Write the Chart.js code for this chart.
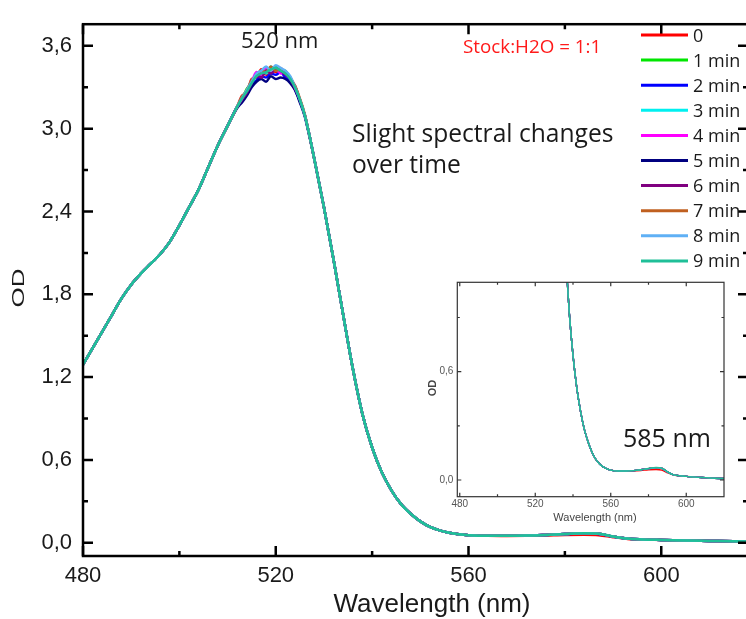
<!DOCTYPE html>
<html>
<head>
<meta charset="utf-8">
<script src="https://cdn.jsdelivr.net/npm/chart.js@4.4.0/dist/chart.umd.min.js"></script>
<style>
  body { margin: 0; background: #fff; }
  #wrap { position: relative; width: 746px; height: 619px; overflow: hidden; }
  #main { position: absolute; left: 0; top: 0; }
  #inset { position: absolute; left: 400px; top: 270px; }
</style>
</head>
<body>
<div id="wrap">
  <canvas id="main" width="749" height="619"></canvas>
  <canvas id="inset" width="330" height="260"></canvas>
</div>
<script>
// wavelength grid (nm)
const wavelengths = [480, 482, 484, 486, 488, 490, 492, 494, 496, 498, 500, 502, 504, 506, 508, 510, 512,
  513, 514, 515, 516, 517, 518, 519, 520, 521, 522, 523, 524,
  525, 526, 527, 528, 530, 532, 534, 536, 538, 540, 542, 544, 546, 548, 550, 552, 554, 556, 558, 560,
  564, 568, 572, 576, 580, 584, 587, 590, 593, 596, 600, 605, 610, 615, 620];

// OD for every time point
const od0 = [1.29, 1.41, 1.53, 1.65, 1.77, 1.87, 1.95, 2.02, 2.09, 2.18, 2.30, 2.43, 2.56, 2.72, 2.88, 3.02, 3.16,
  3.24, 3.26, 3.36, 3.37, 3.43, 3.39, 3.44, 3.41, 3.44, 3.39, 3.37, 3.29,
  3.21, 3.10, 2.95, 2.78, 2.43, 2.05, 1.65, 1.26, 0.93, 0.69, 0.51, 0.38, 0.28, 0.21, 0.155, 0.115, 0.09, 0.073, 0.062, 0.055,
  0.05, 0.049, 0.05, 0.053, 0.057, 0.058, 0.055, 0.04, 0.028, 0.023, 0.02, 0.016, 0.013, 0.01, 0.008];
const od1 = [1.29, 1.41, 1.53, 1.65, 1.77, 1.87, 1.95, 2.02, 2.09, 2.18, 2.30, 2.43, 2.56, 2.72, 2.88, 3.02, 3.16,
  3.21, 3.29, 3.32, 3.40, 3.38, 3.43, 3.41, 3.45, 3.41, 3.42, 3.35, 3.31,
  3.21, 3.10, 2.95, 2.78, 2.43, 2.05, 1.65, 1.26, 0.93, 0.69, 0.51, 0.38, 0.28, 0.21, 0.155, 0.115, 0.09, 0.073, 0.062, 0.055,
  0.05, 0.05, 0.052, 0.057, 0.063, 0.068, 0.065, 0.045, 0.03, 0.024, 0.02, 0.016, 0.013, 0.01, 0.008];
const od2 = [1.29, 1.41, 1.53, 1.65, 1.77, 1.87, 1.95, 2.02, 2.09, 2.18, 2.30, 2.43, 2.56, 2.72, 2.88, 3.02, 3.16,
  3.20, 3.25, 3.31, 3.35, 3.38, 3.37, 3.40, 3.39, 3.41, 3.37, 3.35, 3.28,
  3.20, 3.10, 2.95, 2.78, 2.43, 2.05, 1.65, 1.26, 0.93, 0.69, 0.51, 0.38, 0.28, 0.21, 0.155, 0.115, 0.09, 0.073, 0.062, 0.055,
  0.05, 0.05, 0.052, 0.057, 0.063, 0.067, 0.064, 0.045, 0.03, 0.024, 0.02, 0.016, 0.013, 0.01, 0.008];
const od3 = [1.29, 1.41, 1.53, 1.65, 1.77, 1.87, 1.95, 2.02, 2.09, 2.18, 2.30, 2.43, 2.56, 2.72, 2.88, 3.02, 3.16,
  3.23, 3.28, 3.35, 3.39, 3.42, 3.40, 3.45, 3.42, 3.43, 3.41, 3.37, 3.30,
  3.21, 3.10, 2.95, 2.78, 2.43, 2.05, 1.65, 1.26, 0.93, 0.69, 0.51, 0.38, 0.28, 0.21, 0.155, 0.115, 0.09, 0.073, 0.062, 0.055,
  0.05, 0.05, 0.052, 0.057, 0.063, 0.068, 0.065, 0.045, 0.03, 0.024, 0.02, 0.016, 0.013, 0.01, 0.008];
const od4 = [1.29, 1.41, 1.53, 1.65, 1.77, 1.87, 1.95, 2.02, 2.09, 2.18, 2.30, 2.43, 2.56, 2.72, 2.88, 3.02, 3.16,
  3.22, 3.27, 3.34, 3.41, 3.39, 3.44, 3.42, 3.44, 3.40, 3.41, 3.36, 3.31,
  3.21, 3.10, 2.95, 2.78, 2.43, 2.05, 1.65, 1.26, 0.93, 0.69, 0.51, 0.38, 0.28, 0.21, 0.155, 0.115, 0.09, 0.073, 0.062, 0.055,
  0.05, 0.05, 0.052, 0.057, 0.063, 0.068, 0.065, 0.045, 0.03, 0.024, 0.02, 0.016, 0.013, 0.01, 0.008];
const od5 = [1.29, 1.41, 1.53, 1.65, 1.77, 1.87, 1.95, 2.02, 2.09, 2.18, 2.30, 2.43, 2.56, 2.72, 2.88, 3.02, 3.15,
  3.19, 3.24, 3.30, 3.34, 3.36, 3.34, 3.38, 3.36, 3.37, 3.36, 3.33, 3.28,
  3.19, 3.09, 2.94, 2.78, 2.43, 2.05, 1.65, 1.26, 0.93, 0.69, 0.51, 0.38, 0.28, 0.21, 0.155, 0.115, 0.09, 0.073, 0.062, 0.055,
  0.05, 0.05, 0.052, 0.057, 0.063, 0.068, 0.065, 0.045, 0.03, 0.024, 0.02, 0.016, 0.013, 0.01, 0.008];
const od6 = [1.29, 1.41, 1.53, 1.65, 1.77, 1.87, 1.95, 2.02, 2.09, 2.18, 2.30, 2.43, 2.56, 2.72, 2.88, 3.02, 3.16,
  3.21, 3.26, 3.33, 3.39, 3.37, 3.42, 3.40, 3.43, 3.42, 3.39, 3.36, 3.29,
  3.21, 3.10, 2.95, 2.78, 2.43, 2.05, 1.65, 1.26, 0.93, 0.69, 0.51, 0.38, 0.28, 0.21, 0.155, 0.115, 0.09, 0.073, 0.062, 0.055,
  0.05, 0.05, 0.052, 0.057, 0.063, 0.068, 0.065, 0.045, 0.03, 0.024, 0.02, 0.016, 0.013, 0.01, 0.008];
const od7 = [1.29, 1.41, 1.53, 1.65, 1.77, 1.87, 1.95, 2.02, 2.09, 2.18, 2.30, 2.43, 2.56, 2.72, 2.88, 3.02, 3.16,
  3.23, 3.28, 3.35, 3.38, 3.42, 3.41, 3.45, 3.42, 3.43, 3.40, 3.37, 3.31,
  3.22, 3.11, 2.95, 2.78, 2.43, 2.05, 1.65, 1.26, 0.93, 0.69, 0.51, 0.38, 0.28, 0.21, 0.155, 0.115, 0.09, 0.073, 0.062, 0.055,
  0.05, 0.05, 0.052, 0.057, 0.063, 0.068, 0.065, 0.045, 0.03, 0.024, 0.02, 0.016, 0.013, 0.01, 0.008];
const od8 = [1.29, 1.41, 1.53, 1.65, 1.77, 1.87, 1.95, 2.02, 2.09, 2.18, 2.30, 2.43, 2.56, 2.72, 2.88, 3.02, 3.16,
  3.22, 3.28, 3.34, 3.40, 3.42, 3.45, 3.42, 3.46, 3.44, 3.42, 3.38, 3.30,
  3.21, 3.10, 2.95, 2.78, 2.43, 2.05, 1.65, 1.26, 0.93, 0.69, 0.51, 0.38, 0.28, 0.21, 0.155, 0.115, 0.09, 0.073, 0.062, 0.055,
  0.05, 0.05, 0.052, 0.057, 0.063, 0.068, 0.065, 0.045, 0.03, 0.024, 0.02, 0.016, 0.013, 0.01, 0.008];
const od9 = [1.29, 1.41, 1.53, 1.65, 1.77, 1.87, 1.95, 2.02, 2.09, 2.18, 2.30, 2.43, 2.56, 2.72, 2.88, 3.02, 3.16,
  3.22, 3.27, 3.33, 3.38, 3.40, 3.41, 3.43, 3.44, 3.42, 3.40, 3.36, 3.30,
  3.21, 3.10, 2.95, 2.78, 2.43, 2.05, 1.65, 1.26, 0.93, 0.69, 0.51, 0.38, 0.28, 0.21, 0.155, 0.115, 0.09, 0.073, 0.062, 0.055,
  0.05, 0.05, 0.052, 0.057, 0.064, 0.069, 0.066, 0.046, 0.03, 0.024, 0.02, 0.016, 0.013, 0.01, 0.008];

const seriesNames = ['0', '1 min', '2 min', '3 min', '4 min', '5 min', '6 min', '7 min', '8 min', '9 min'];
const seriesColors = ['#ff0000', '#00e600', '#0000ff', '#00f0f0', '#ff00ff', '#000080', '#800080', '#c06020', '#5fb0f5', '#1fbf98'];
const allSeries = [od0, od1, od2, od3, od4, od5, od6, od7, od8, od9];

// ticks
const xMajor = [480, 520, 560, 600];
const xMinor = [500, 540, 580];
const yMajor = [0, 0.6, 1.2, 1.8, 2.4, 3.0, 3.6];
const yMinor = [0.3, 0.9, 1.5, 2.1, 2.7, 3.3];
const insetYMajor = [0, 0.6];
const insetYMinor = [0.3, 0.9];

const tickFont = '"Liberation Sans", Arial, sans-serif';

function comma(v) {
    return v.toFixed(1).replace('.', ',');
}

function makeDatasets(width) {
    return allSeries.map(function (data, i) {
        return {
            label: seriesNames[i],
            data: data.map(function (y, j) { return { x: wavelengths[j], y: y }; }),
            borderColor: seriesColors[i],
            borderWidth: width,
            pointRadius: 0,
            fill: false,
            cubicInterpolationMode: 'monotone',
            order: allSeries.length - 1 - i // last series on top
        };
    });
}

// box around the plot with inward ticks on all four sides
const framePlugin = {
    id: 'frame',
    afterDraw(chart, args, opts) {
        const ctx = chart.ctx, a = chart.chartArea;
        const xs = chart.scales.x, ys = chart.scales.y;
        const yMaj = opts.inset ? insetYMajor : yMajor;
        const yMin = opts.inset ? insetYMinor : yMinor;
        ctx.save();
        ctx.strokeStyle = opts.color;
        ctx.lineWidth = opts.width;
        ctx.beginPath();
        function tickX(v, len) {
            const px = xs.getPixelForValue(v);
            ctx.moveTo(px, a.bottom); ctx.lineTo(px, a.bottom - len);
            ctx.moveTo(px, a.top); ctx.lineTo(px, a.top + len);
        }
        function tickY(v, len) {
            const py = ys.getPixelForValue(v);
            ctx.moveTo(a.left, py); ctx.lineTo(a.left + len, py);
            ctx.moveTo(a.right, py); ctx.lineTo(a.right - len, py);
        }
        xMajor.forEach(function (v) { tickX(v, opts.major); });
        xMinor.forEach(function (v) { tickX(v, opts.minor); });
        yMaj.forEach(function (v) { tickY(v, opts.major); });
        yMin.forEach(function (v) { tickY(v, opts.minor); });
        ctx.stroke();
        ctx.strokeRect(a.left, a.top, a.right - a.left, a.bottom - a.top);
        ctx.restore();
    }
};

const mainText = {
    id: 'mainText',
    afterDraw(chart) {
        const ctx = chart.ctx;
        ctx.save();
        ctx.textBaseline = 'alphabetic';
        ctx.fillStyle = '#1a1a1a';
        ctx.font = '22px "Open Sans"';
        ctx.fillText('520 nm', 241, 48);
        ctx.font = '24.6px "Open Sans"';
        ctx.fillText('Slight spectral changes', 352, 142);
        ctx.fillText('over time', 352, 173);
        ctx.fillStyle = '#ff1a1a';
        ctx.font = '18.8px "Open Sans"';
        ctx.fillText('Stock:H2O = 1:1', 463, 53);

        // legend
        ctx.font = '18px "Open Sans"';
        seriesNames.forEach(function (name, i) {
            const y = 35 + i * 25.1;
            ctx.strokeStyle = seriesColors[i];
            ctx.lineWidth = 3;
            ctx.beginPath();
            ctx.moveTo(641, y);
            ctx.lineTo(688, y);
            ctx.stroke();
            ctx.fillStyle = '#1a1a1a';
            ctx.fillText(name, 693, y + 6.5);
        });

        // axis titles
        ctx.fillStyle = '#1a1a1a';
        ctx.font = '26px ' + tickFont;
        ctx.textAlign = 'center';
        ctx.fillText('Wavelength (nm)', 432, 612);
        ctx.translate(19, 288);
        ctx.rotate(-Math.PI / 2);
        ctx.scale(1, 0.65);
        ctx.textBaseline = 'middle';
        ctx.fillText('OD', 0, 0);
        ctx.restore();
    }
};

const insetText = {
    id: 'insetText',
    afterDraw(chart) {
        const ctx = chart.ctx;
        ctx.save();
        ctx.fillStyle = '#1a1a1a';
        ctx.font = '25px "Open Sans"';
        ctx.fillText('585 nm', 223, 177);
        ctx.fillStyle = '#444';
        ctx.font = '11px ' + tickFont;
        ctx.textAlign = 'center';
        ctx.fillText('Wavelength (nm)', 195, 251);
        ctx.translate(33, 118);
        ctx.rotate(-Math.PI / 2);
        ctx.font = 'bold 11px ' + tickFont;
        ctx.textBaseline = 'middle';
        ctx.fillText('OD', 0, 0);
        ctx.restore();
    }
};

function axes(o) {
    return {
        x: {
            type: 'linear', min: o.xMin, max: o.xMax,
            afterBuildTicks: function (s) { s.ticks = xMajor.map(function (v) { return { value: v }; }); },
            afterFit: function (s) { s.height = o.xHeight; },
            grid: { display: false, drawTicks: false },
            border: { display: false },
            ticks: { padding: o.xPad, autoSkip: false, maxRotation: 0, color: o.color,
                font: { family: tickFont, size: o.size }, callback: function (v) { return v; } }
        },
        y: {
            min: o.yMin, max: o.yMax,
            afterBuildTicks: function (s) { s.ticks = o.yTicks.map(function (v) { return { value: v }; }); },
            afterFit: function (s) { s.width = o.yWidth; },
            grid: { display: false, drawTicks: false },
            border: { display: false },
            ticks: { padding: o.yPad, autoSkip: false, color: o.color,
                font: { family: tickFont, size: o.size }, callback: function (v) { return comma(v); } }
        }
    };
}

window.onload = function () {
    new Chart(document.getElementById('main'), {
        type: 'line',
        data: { datasets: makeDatasets(2.5) },
        options: {
            responsive: false,
            animation: false,
            events: [],
            layout: { padding: { top: 15, right: 1, left: 0, bottom: 0 } },
            plugins: {
                legend: { display: false },
                tooltip: { enabled: false },
                frame: { color: '#000', width: 2.5, major: 10, minor: 5, inset: false }
            },
            scales: axes({ xMin: 480, xMax: 618, yMin: -0.096, yMax: 3.757, yTicks: yMajor,
                xHeight: 63, yWidth: 83, xPad: 7, yPad: 11, size: 22, color: '#1a1a1a' })
        },
        plugins: [framePlugin, mainText]
    });

    new Chart(document.getElementById('inset'), {
        type: 'line',
        data: { datasets: makeDatasets(1.4) },
        options: {
            responsive: false,
            animation: false,
            events: [],
            layout: { padding: { top: 12.3, right: 6, left: 0, bottom: 0 } },
            plugins: {
                legend: { display: false },
                tooltip: { enabled: false },
                frame: { color: '#333', width: 1.2, major: 4, minor: 2.5, inset: true }
            },
            scales: axes({ xMin: 478.7, xMax: 620, yMin: -0.0925, yMax: 1.095, yTicks: insetYMajor,
                xHeight: 33.3, yWidth: 57.3, xPad: 2, yPad: 4, size: 10, color: '#555' })
        },
        plugins: [framePlugin, insetText]
    });
};
</script>
</body>
</html>
